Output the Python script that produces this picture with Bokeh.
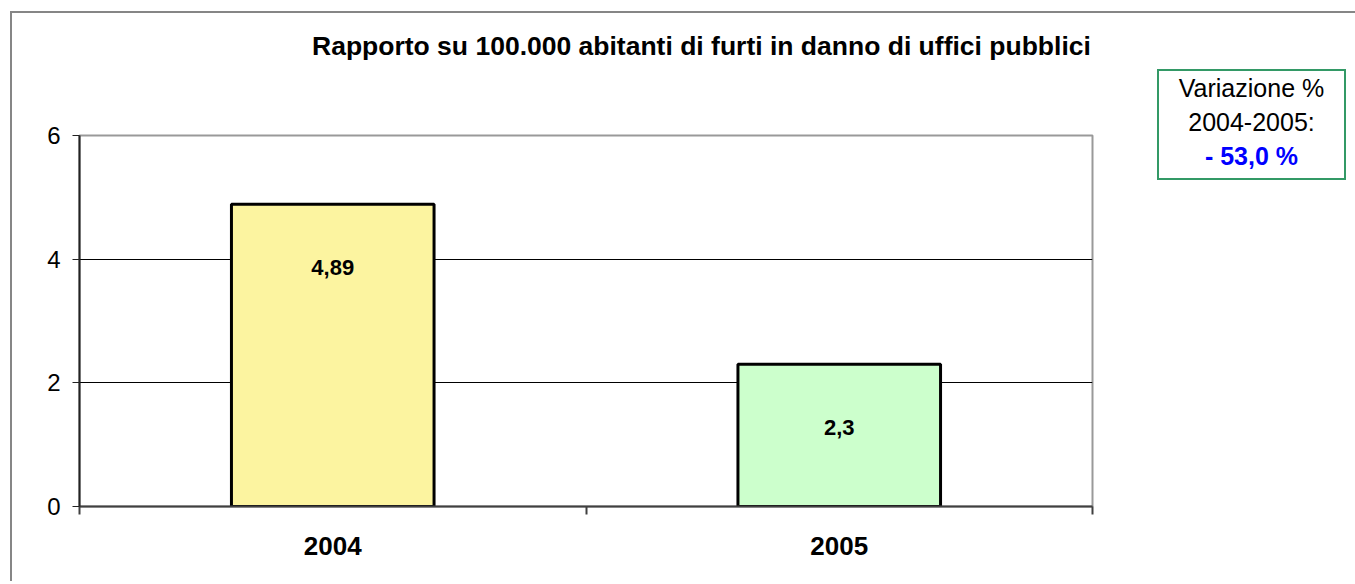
from bokeh.plotting import figure
from bokeh.layouts import row, column
from bokeh.models import (ColumnDataSource, LinearAxis, Range1d,
                          FixedTicker, LabelSet, Div)
from bokeh.core.properties import value
from bokeh.embed import file_html
from bokeh.resources import INLINE

# ---- data ----
years = ["2004", "2005"]
rates = [4.89, 2.3]
bar_labels = ["4,89", "2,3"]
bar_colors = ["#FCF4A0", "#CCFFCC"]
y_ticks = [0, 2, 4, 6]
title_text = "Rapporto su 100.000 abitanti di furti in danno di uffici pubblici"
box_line1 = "Variazione %"
box_line2 = "2004-2005:"
box_value = "- 53,0 %"

FONT = "Liberation Sans"

n = len(years)
centers = [i + 0.5 for i in range(n)]
bounds = list(range(n + 1))

W, TITLE_H = 1130, 50
H = 558 - TITLE_H
TOP = 62
p = figure(x_range=Range1d(0, n), y_range=Range1d(0, 6),
           width=W, height=H, output_backend="svg", toolbar_location=None,
           x_axis_location=None, y_axis_location=None,
           min_border_left=67, min_border_right=W - 67 - 1013,
           min_border_top=TOP, min_border_bottom=H - TOP - 371)
p.background_fill_color = "white"
p.border_fill_color = "white"
p.outline_line_color = "#999999"
p.outline_line_width = 2

# y axis
yax = LinearAxis(ticker=FixedTicker(ticks=y_ticks))
yax.axis_line_color = "#222222"
yax.axis_line_width = 2
yax.major_tick_out = 7
yax.major_tick_in = 0
yax.major_tick_line_color = "#222222"
yax.minor_tick_line_color = None
yax.major_label_text_font = FONT
yax.major_label_text_font_size = "24px"
yax.major_label_text_color = "black"
yax.major_label_standoff = 12
p.add_layout(yax, "left")

# grid
p.ygrid.ticker = FixedTicker(ticks=y_ticks)
p.ygrid.grid_line_color = "black"
p.ygrid.grid_line_width = 1
p.xgrid.grid_line_color = None

# x axis: labels at category centers, ticks between categories
xax = LinearAxis(ticker=FixedTicker(ticks=centers, minor_ticks=bounds),
                 major_label_overrides={c: y for c, y in zip(centers, years)})
xax.axis_line_color = "#404040"
xax.axis_line_width = 2
xax.major_tick_line_color = None
xax.major_tick_out = 0
xax.major_tick_in = 0
xax.minor_tick_line_color = "#404040"
xax.minor_tick_line_width = 2
xax.minor_tick_out = 8
xax.minor_tick_in = 0
xax.major_label_text_font = FONT
xax.major_label_text_font_style = "bold"
xax.major_label_text_font_size = "26px"
xax.major_label_text_color = "black"
xax.major_label_standoff = 22
p.add_layout(xax, "below")

src = ColumnDataSource(dict(x=centers, top=rates, lab=bar_labels, color=bar_colors))
p.vbar(x="x", top="top", width=0.4, source=src, fill_color="color",
       line_color="black", line_width=3)

p.add_layout(LabelSet(x="x", y="top", text="lab", source=src, y_offset=-63,
                      text_align="center", text_baseline="middle",
                      text_font=value(FONT), text_font_style="bold",
                      text_font_size="22px", text_color="black"))

title_html = (
    f'<div style="padding-left:295px;padding-top:13px;white-space:nowrap;'
    f'font-family:\'{FONT}\';font-size:26.5px;font-weight:bold;line-height:30px;'
    f'color:black;">{title_text}</div>'
)
title_div = Div(text=title_html, width=W, height=TITLE_H)

box_html = (
    f'<div style="margin-top:51px;margin-left:0px;width:185px;height:107px;'
    f'border:2px solid #339966;font-family:\'{FONT}\';font-size:25px;'
    f'line-height:34px;text-align:center;color:black;padding-top:0px;box-sizing:content-box;">'
    f'{box_line1}<br>{box_line2}<br>'
    f'<span style="color:#0000FF;font-weight:bold;">{box_value}</span></div>'
)
box = Div(text=box_html, width=195, height=200)

layout = row(column(title_div, p), box,
             styles={"margin-left": "10px", "margin-top": "11px",
                     "border-left": "2px solid #868686",
                     "border-top": "2px solid #868686"})

open("out.html", "w").write(file_html(layout, INLINE))
